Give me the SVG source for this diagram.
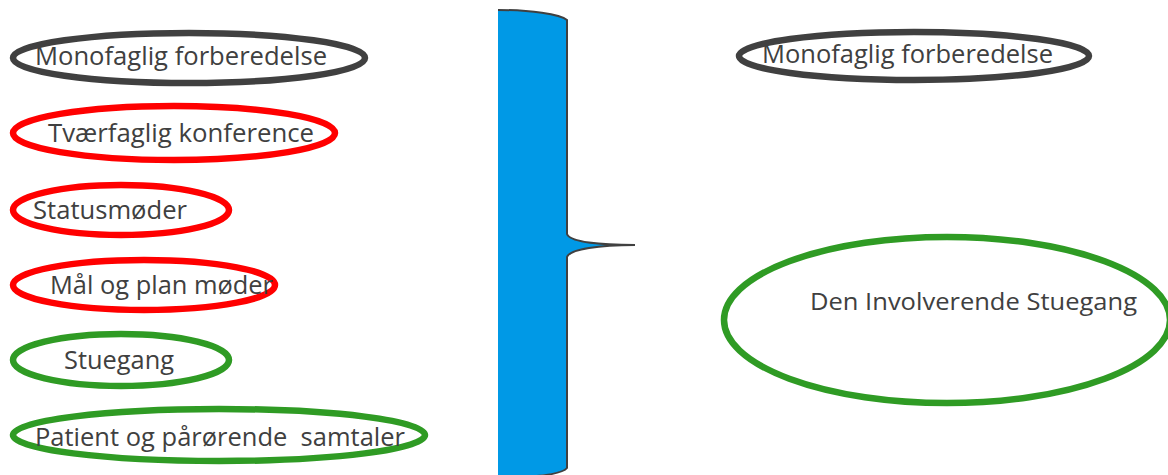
<svg xmlns="http://www.w3.org/2000/svg" width="1168" height="475" viewBox="0 0 1168 475">
<style>
.e{fill:none;stroke-width:6.5}
.g{stroke:#404040}
.r{stroke:#ff0000}
.gr{stroke:#2f9b24}
.t{font-family:"Open Sans","Noto Sans",sans-serif;font-size:26px;fill:#404040}
</style>
<rect width="1168" height="475" fill="#ffffff"/>
<g id="connectors">
<path d="M498,10 C530,10 560,14 567,20 L567,234 C570,242 600,245 635,245 C600,245 570,249 567,257 L567,468 C563,473 545,476 498,477 Z" fill="#0099e6"/>
<path d="M498,10 C530,10 560,14 567,20 L567,234 C570,242 600,245 635,245 C600,245 570,249 567,257 L567,468 C563,473 545,476 520,477" fill="none" stroke="#404040" stroke-width="2"/>
</g>
<g id="n1"><ellipse class="e g" cx="189" cy="58" rx="176" ry="25"/><text class="t" x="35" y="65" textLength="292" lengthAdjust="spacingAndGlyphs">Monofaglig forberedelse</text></g>
<g id="n2"><ellipse class="e r" cx="174" cy="133" rx="161" ry="27"/><text class="t" x="48" y="142" textLength="266" lengthAdjust="spacingAndGlyphs">Tværfaglig konference</text></g>
<g id="n3"><ellipse class="e r" cx="121" cy="210" rx="108" ry="25"/><text class="t" x="33" y="219" textLength="154" lengthAdjust="spacingAndGlyphs">Statusmøder</text></g>
<g id="n4"><ellipse class="e r" cx="144" cy="285" rx="131" ry="25"/><text class="t" x="50" y="294" textLength="223" lengthAdjust="spacingAndGlyphs">Mål og plan møder</text></g>
<g id="n5"><ellipse class="e gr" cx="121" cy="360" rx="108" ry="26"/><text class="t" x="64" y="369" textLength="110" lengthAdjust="spacingAndGlyphs">Stuegang</text></g>
<g id="n6"><ellipse class="e gr" cx="219" cy="435" rx="206" ry="26"/><text class="t" x="35" y="446" textLength="370" lengthAdjust="spacingAndGlyphs" xml:space="preserve">Patient og pårørende  samtaler</text></g>
<g id="n7"><ellipse class="e g" cx="914" cy="56" rx="175" ry="24"/><text class="t" x="762" y="63" textLength="291" lengthAdjust="spacingAndGlyphs">Monofaglig forberedelse</text></g>
<g id="n8"><ellipse class="e gr" cx="947" cy="320" rx="223" ry="83"/><text class="t" x="810" y="310" style="font-size:24px" textLength="327" lengthAdjust="spacingAndGlyphs">Den Involverende Stuegang</text></g>
</svg>
